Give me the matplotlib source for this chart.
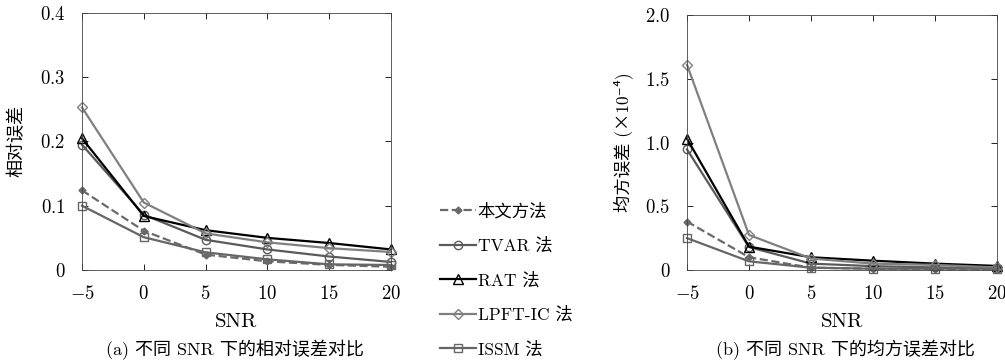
import matplotlib
matplotlib.use('Agg')
import matplotlib.pyplot as plt
from matplotlib.lines import Line2D

plt.rcParams['mathtext.fontset'] = 'cm'
plt.rcParams['font.family'] = ['cmr10', 'Noto Sans CJK SC', 'DejaVu Serif']
plt.rcParams['axes.unicode_minus'] = False

snr = [-5, 0, 5, 10, 15, 20]
methods = ['本文方法', 'TVAR 法', 'RAT 法', 'LPFT-IC 法', 'ISSM 法']

# (a) relative error
rel_ours = [0.124, 0.061, 0.024, 0.0135, 0.008, 0.005]
rel_tvar = [0.195, 0.086, 0.047, 0.032, 0.021, 0.0125]
rel_rat = [0.205, 0.084, 0.062, 0.050, 0.042, 0.032]
rel_lpft = [0.253, 0.105, 0.057, 0.043, 0.034, 0.028]
rel_issm = [0.100, 0.051, 0.0275, 0.0166, 0.0088, 0.0078]

# (b) mean square error, x1e-4
mse_ours = [0.38, 0.10, 0.018, 0.010, 0.005, 0.005]
mse_tvar = [0.946, 0.18, 0.05, 0.03, 0.02, 0.013]
mse_rat = [1.03, 0.183, 0.10, 0.073, 0.05, 0.032]
mse_lpft = [1.61, 0.275, 0.09, 0.05, 0.04, 0.02]
mse_issm = [0.25, 0.068, 0.018, 0.010, 0.010, 0.010]

styles = [
    dict(color='#6a6a6a', ls='--', marker='D', ms=3.5, mfc='#6a6a6a', mec='#6a6a6a'),
    dict(color='#5a5a5a', ls='-', marker='o', ms=6, mfc='none', mec='#5a5a5a'),
    dict(color='#000000', ls='-', marker='^', ms=7, mfc='none', mec='#000000'),
    dict(color='#808080', ls='-', marker='D', ms=5, mfc='none', mec='#808080'),
    dict(color='#666666', ls='-', marker='s', ms=6, mfc='none', mec='#666666'),
]

W, H = 1005, 363
fig = plt.figure(figsize=(W / 100, H / 100), dpi=100)


def make_axes(x0, x1, y0, y1):
    return fig.add_axes([x0 / W, 1 - y1 / H, (x1 - x0) / W, (y1 - y0) / H])


def style_axes(ax, ymax, yticks, ylabels):
    ax.set_xlim(-5, 20)
    ax.set_ylim(0, ymax)
    ax.set_xticks(snr)
    ax.set_xticklabels(['$%d$' % v for v in snr])
    ax.set_yticks(yticks)
    ax.set_yticklabels(ylabels)
    ax.tick_params(direction='in', top=True, right=True, length=4,
                   labelsize=13.5, width=0.6)
    ax.tick_params(axis='x', pad=11)
    ax.tick_params(axis='y', pad=12)
    for s in ax.spines.values():
        s.set_linewidth(0.6)
        s.set_color('#444444')
    ax.set_xlabel('SNR', fontsize=15, labelpad=7)


ax1 = make_axes(82, 391, 13, 270)
for data, st in zip([rel_ours, rel_tvar, rel_rat, rel_lpft, rel_issm], styles):
    ax1.plot(snr, data, lw=1.6, clip_on=False, **st)
style_axes(ax1, 0.4, [0, 0.1, 0.2, 0.3, 0.4],
           ['$0$', '$0.1$', '$0.2$', '$0.3$', '$0.4$'])
ax1.set_ylabel('相对误差', fontsize=13, labelpad=11)

ax2 = make_axes(687, 997, 15, 270)
for data, st in zip([mse_ours, mse_tvar, mse_rat, mse_lpft, mse_issm], styles):
    ax2.plot(snr, data, lw=1.6, clip_on=False, **st)
style_axes(ax2, 2.0, [0, 0.5, 1.0, 1.5, 2.0],
           ['$0$', '$0.5$', '$1.0$', '$1.5$', '$2.0$'])
ax2.set_ylabel('均方误差 (×10⁻⁴)', fontsize=12.5, labelpad=8)

handles = [Line2D([], [], lw=1.6, **st) for st in styles]
fig.legend(handles, methods, loc='center left', bbox_to_anchor=(424 / W, 1 - 280 / H),
           frameon=False, fontsize=12.5, handlelength=2.1, handletextpad=0.1,
           labelspacing=1.05)

fig.text(235 / W, 1 - 350 / H, '(a) 不同 SNR 下的相对误差对比', ha='center', va='center', fontsize=13)
fig.text(845 / W, 1 - 350 / H, '(b) 不同 SNR 下的均方误差对比', ha='center', va='center', fontsize=13)

fig.savefig('out.png', dpi=100)
